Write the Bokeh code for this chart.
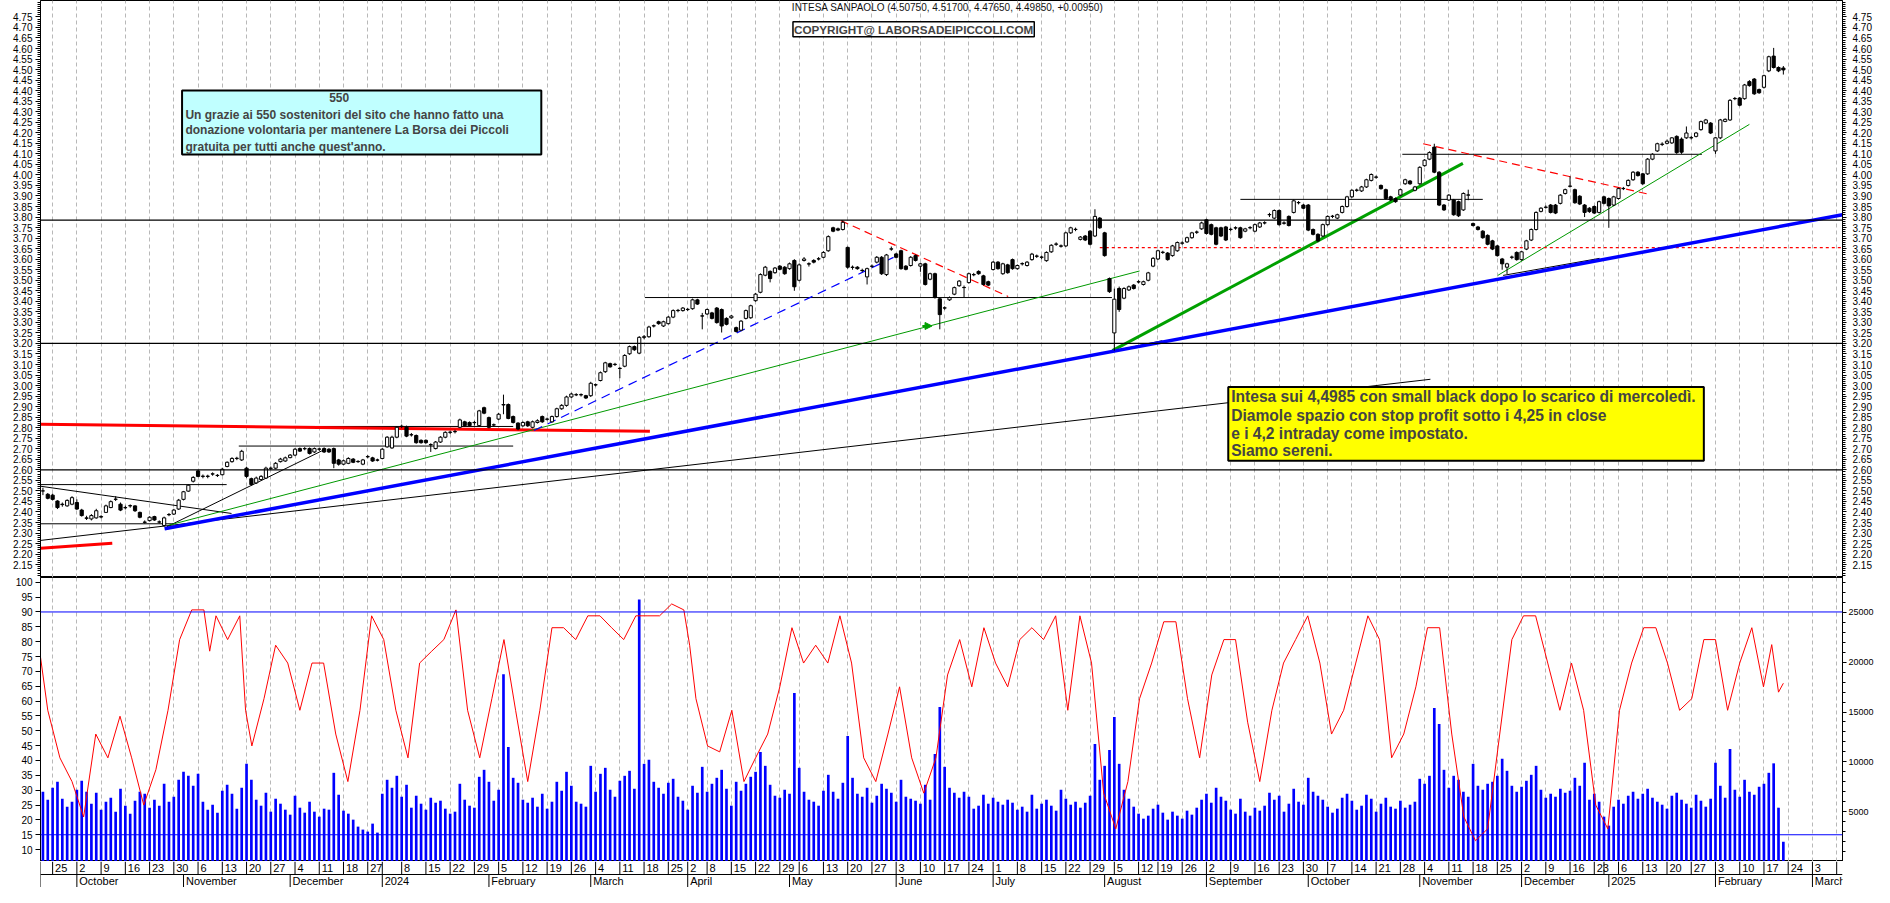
import numpy as np
import pandas as pd
from bokeh.plotting import figure
from bokeh.layouts import column
from bokeh.models import (Range1d, LinearAxis, FixedTicker, ColumnDataSource, Span, Label,
                          BoxAnnotation, Arrow, NormalHead, Grid, PrintfTickFormatter)
from bokeh.embed import file_html
from bokeh.resources import INLINE
from bokeh.core.properties import value

# ------------------------------------------------------------------ data
FIRST_DAY = "2023-09-20"
LAST_SLOT = "2025-03-12"
HOLIDAYS = ["2023-12-25", "2023-12-26", "2024-01-01", "2024-03-29", "2024-04-01",
            "2024-05-01", "2024-08-15", "2024-12-24", "2024-12-25", "2024-12-26",
            "2024-12-31", "2025-01-01"]
BLANK_WEEK_LABELS = ["2024-01-02", "2024-12-30"]
MONTHS = ["January", "February", "March", "April", "May", "June", "July", "August",
          "September", "October", "November", "December"]

OPENS = [
 2.51, 2.50, 2.484, 2.48, 2.452, 2.435, 2.429, 2.437, 2.445, 2.409,
 2.372, 2.367, 2.372, 2.378, 2.398, 2.421, 2.46, 2.437, 2.42, 2.43,
 2.429, 2.398, 2.352, 2.359, 2.378, 2.352, 2.336, 2.388, 2.39, 2.414,
 2.46, 2.499, 2.546, 2.595, 2.569, 2.57, 2.58, 2.574, 2.577, 2.616,
 2.639, 2.654, 2.647, 2.608, 2.558, 2.538, 2.554, 2.561, 2.607, 2.608,
 2.639, 2.642, 2.658, 2.67, 2.701, 2.70, 2.701, 2.685, 2.698, 2.701,
 2.698, 2.701, 2.647, 2.627, 2.631, 2.651, 2.64, 2.627, 2.662, 2.657,
 2.647, 2.654, 2.709, 2.704, 2.755, 2.806, 2.802, 2.766, 2.763, 2.74,
 2.74, 2.72, 2.701, 2.732, 2.755, 2.778, 2.781, 2.802, 2.828, 2.825,
 2.825, 2.81, 2.895, 2.848, 2.813, 2.841, 2.908, 2.91, 2.853, 2.822,
 2.809, 2.828, 2.802, 2.825, 2.853, 2.84, 2.828, 2.853, 2.89, 2.906,
 2.946, 2.956, 2.957, 2.952, 2.952, 3.004, 3.024, 3.066, 3.104, 3.10,
 3.082, 3.092, 3.151, 3.185, 3.154, 3.229, 3.232, 3.283, 3.303, 3.283,
 3.294, 3.325, 3.356, 3.356, 3.361, 3.365, 3.407, 3.33, 3.34, 3.345,
 3.368, 3.361, 3.319, 3.322, 3.275, 3.263, 3.319, 3.322, 3.403, 3.443,
 3.524, 3.542, 3.536, 3.567, 3.562, 3.555, 3.594, 3.50, 3.594, 3.578,
 3.594, 3.601, 3.609, 3.64, 3.749, 3.744, 3.741, 3.656, 3.562, 3.562,
 3.547, 3.516, 3.566, 3.586, 3.609, 3.527, 3.648, 3.625, 3.64, 3.567,
 3.57, 3.617, 3.567, 3.578, 3.505, 3.531, 3.412, 3.368, 3.407, 3.434,
 3.474, 3.465, 3.489, 3.527, 3.542, 3.521, 3.493, 3.551, 3.586, 3.531,
 3.573, 3.598, 3.555, 3.578, 3.57, 3.598, 3.615, 3.609, 3.593, 3.635,
 3.671, 3.663, 3.663, 3.725, 3.741, 3.694, 3.71, 3.733, 3.71, 3.795,
 3.725, 3.508, 3.25, 3.461, 3.415, 3.454, 3.477, 3.492, 3.48, 3.50,
 3.567, 3.601, 3.632, 3.629, 3.617, 3.64, 3.676, 3.682, 3.702, 3.728,
 3.744, 3.787, 3.764, 3.749, 3.749, 3.753, 3.741, 3.749, 3.749, 3.733,
 3.749, 3.733, 3.753, 3.772, 3.811, 3.795, 3.831, 3.772, 3.803, 3.822,
 3.868, 3.857, 3.857, 3.741, 3.718, 3.71, 3.764, 3.803, 3.795, 3.822,
 3.85, 3.896, 3.927, 3.924, 3.943, 3.974, 3.989, 3.95, 3.93, 3.896,
 3.888, 3.904, 3.958, 3.971, 3.927, 3.958, 4.044, 4.075, 4.132, 4.013,
 3.857, 3.881, 3.881, 3.873, 3.834, 3.904, 3.769, 3.753, 3.733, 3.713,
 3.687, 3.663, 3.601, 3.562, 3.609, 3.632, 3.598, 3.648, 3.691, 3.741,
 3.827, 3.846, 3.857, 3.857, 3.865, 3.912, 3.946, 3.93, 3.899, 3.857,
 3.842, 3.85, 3.822, 3.896, 3.888, 3.857, 3.888, 3.935, 3.95, 3.977,
 4.013, 4.005, 4.005, 4.075, 4.114, 4.145, 4.15, 4.152, 4.183, 4.17,
 4.176, 4.176, 4.183, 4.215, 4.246, 4.246, 4.114, 4.176, 4.254, 4.261,
 4.362, 4.365, 4.362, 4.443, 4.455, 4.405, 4.416, 4.494, 4.564, 4.51,
 4.5075]

HIGHS = [
 2.52, 2.515, 2.49, 2.487, 2.456, 2.445, 2.46, 2.475, 2.46, 2.415,
 2.382, 2.39, 2.415, 2.385, 2.435, 2.455, 2.475, 2.445, 2.43, 2.436,
 2.432, 2.402, 2.36, 2.38, 2.382, 2.36, 2.378, 2.395, 2.415, 2.462,
 2.50, 2.532, 2.57, 2.60, 2.578, 2.577, 2.588, 2.58, 2.61, 2.64,
 2.66, 2.662, 2.695, 2.615, 2.563, 2.568, 2.575, 2.615, 2.616, 2.637,
 2.657, 2.663, 2.675, 2.704, 2.706, 2.708, 2.706, 2.706, 2.705, 2.707,
 2.703, 2.706, 2.652, 2.649, 2.66, 2.656, 2.646, 2.652, 2.67, 2.662,
 2.653, 2.703, 2.76, 2.762, 2.808, 2.815, 2.81, 2.775, 2.768, 2.745,
 2.745, 2.726, 2.737, 2.76, 2.783, 2.786, 2.79, 2.843, 2.833, 2.83,
 2.832, 2.885, 2.90, 2.853, 2.82, 2.87, 2.957, 2.915, 2.858, 2.826,
 2.83, 2.833, 2.834, 2.84, 2.858, 2.848, 2.858, 2.895, 2.912, 2.952,
 2.966, 2.964, 2.963, 2.956, 3.018, 3.01, 3.067, 3.113, 3.109, 3.108,
 3.088, 3.149, 3.19, 3.19, 3.235, 3.24, 3.284, 3.29, 3.308, 3.308,
 3.33, 3.362, 3.364, 3.373, 3.368, 3.413, 3.412, 3.345, 3.366, 3.35,
 3.373, 3.366, 3.324, 3.335, 3.28, 3.311, 3.361, 3.384, 3.44, 3.533,
 3.568, 3.547, 3.563, 3.572, 3.567, 3.584, 3.60, 3.58, 3.61, 3.585,
 3.60, 3.61, 3.638, 3.713, 3.754, 3.75, 3.785, 3.66, 3.57, 3.567,
 3.555, 3.56, 3.575, 3.615, 3.615, 3.625, 3.66, 3.63, 3.645, 3.572,
 3.615, 3.622, 3.583, 3.583, 3.536, 3.536, 3.417, 3.376, 3.423, 3.47,
 3.501, 3.475, 3.536, 3.535, 3.547, 3.526, 3.498, 3.591, 3.591, 3.583,
 3.578, 3.603, 3.575, 3.585, 3.591, 3.63, 3.622, 3.617, 3.637, 3.671,
 3.68, 3.67, 3.73, 3.754, 3.75, 3.71, 3.715, 3.738, 3.837, 3.80,
 3.73, 3.513, 3.46, 3.47, 3.467, 3.475, 3.482, 3.50, 3.498, 3.54,
 3.61, 3.645, 3.64, 3.634, 3.668, 3.684, 3.685, 3.707, 3.73, 3.736,
 3.778, 3.792, 3.769, 3.754, 3.754, 3.758, 3.75, 3.756, 3.754, 3.749,
 3.757, 3.769, 3.777, 3.78, 3.82, 3.836, 3.836, 3.78, 3.808, 3.883,
 3.876, 3.862, 3.862, 3.746, 3.723, 3.769, 3.808, 3.81, 3.816, 3.855,
 3.901, 3.932, 3.935, 3.948, 3.982, 4.007, 3.997, 3.955, 3.935, 3.901,
 3.893, 3.935, 3.982, 3.976, 3.948, 4.041, 4.075, 4.112, 4.148, 4.018,
 3.862, 3.909, 3.886, 3.878, 3.917, 3.93, 3.774, 3.758, 3.738, 3.718,
 3.692, 3.668, 3.606, 3.583, 3.617, 3.637, 3.64, 3.692, 3.746, 3.827,
 3.847, 3.855, 3.862, 3.862, 3.909, 3.935, 3.993, 3.935, 3.904, 3.862,
 3.847, 3.855, 3.878, 3.901, 3.893, 3.901, 3.94, 3.943, 3.979, 4.018,
 4.018, 4.01, 4.08, 4.103, 4.153, 4.155, 4.168, 4.18, 4.188, 4.178,
 4.23, 4.185, 4.204, 4.258, 4.266, 4.251, 4.18, 4.266, 4.268, 4.36,
 4.37, 4.37, 4.432, 4.45, 4.46, 4.41, 4.476, 4.566, 4.603, 4.515,
 4.517]

LOWS = [
 2.49, 2.48, 2.46, 2.455, 2.414, 2.425, 2.425, 2.432, 2.41, 2.378,
 2.362, 2.36, 2.368, 2.37, 2.395, 2.418, 2.452, 2.404, 2.412, 2.42,
 2.40, 2.37, 2.345, 2.355, 2.358, 2.345, 2.33, 2.38, 2.386, 2.41,
 2.455, 2.495, 2.54, 2.565, 2.56, 2.56, 2.572, 2.566, 2.573, 2.612,
 2.634, 2.646, 2.642, 2.562, 2.525, 2.533, 2.55, 2.557, 2.60, 2.603,
 2.635, 2.638, 2.655, 2.665, 2.685, 2.693, 2.673, 2.68, 2.69, 2.68,
 2.68, 2.608, 2.62, 2.622, 2.627, 2.632, 2.633, 2.622, 2.655, 2.638,
 2.64, 2.65, 2.705, 2.70, 2.75, 2.798, 2.755, 2.758, 2.724, 2.724,
 2.724, 2.685, 2.697, 2.728, 2.75, 2.77, 2.773, 2.798, 2.805, 2.805,
 2.81, 2.805, 2.864, 2.797, 2.806, 2.836, 2.864, 2.84, 2.82, 2.788,
 2.804, 2.804, 2.797, 2.82, 2.823, 2.834, 2.824, 2.848, 2.885, 2.90,
 2.94, 2.95, 2.948, 2.936, 2.946, 2.996, 3.02, 3.06, 3.085, 3.093,
 3.035, 3.087, 3.146, 3.165, 3.149, 3.22, 3.227, 3.276, 3.289, 3.278,
 3.29, 3.32, 3.348, 3.351, 3.354, 3.36, 3.383, 3.267, 3.335, 3.314,
 3.294, 3.252, 3.286, 3.317, 3.252, 3.258, 3.314, 3.317, 3.398, 3.438,
 3.519, 3.49, 3.531, 3.547, 3.526, 3.55, 3.45, 3.495, 3.589, 3.565,
 3.58, 3.594, 3.604, 3.635, 3.728, 3.733, 3.736, 3.555, 3.55, 3.55,
 3.538, 3.48, 3.56, 3.58, 3.525, 3.52, 3.64, 3.604, 3.55, 3.547,
 3.565, 3.589, 3.54, 3.475, 3.50, 3.413, 3.267, 3.36, 3.402, 3.429,
 3.469, 3.42, 3.484, 3.519, 3.526, 3.475, 3.472, 3.546, 3.55, 3.526,
 3.531, 3.55, 3.55, 3.57, 3.565, 3.593, 3.606, 3.60, 3.588, 3.63,
 3.663, 3.655, 3.658, 3.72, 3.733, 3.689, 3.686, 3.666, 3.705, 3.744,
 3.612, 3.44, 3.166, 3.35, 3.41, 3.449, 3.456, 3.485, 3.475, 3.495,
 3.562, 3.596, 3.625, 3.593, 3.612, 3.635, 3.668, 3.677, 3.697, 3.72,
 3.739, 3.717, 3.713, 3.666, 3.705, 3.686, 3.733, 3.74, 3.697, 3.728,
 3.742, 3.728, 3.748, 3.765, 3.80, 3.79, 3.759, 3.764, 3.755, 3.817,
 3.86, 3.837, 3.733, 3.713, 3.68, 3.705, 3.759, 3.795, 3.79, 3.817,
 3.845, 3.891, 3.92, 3.919, 3.938, 3.969, 3.982, 3.93, 3.883, 3.876,
 3.868, 3.899, 3.953, 3.953, 3.922, 3.953, 4.039, 4.07, 4.008, 3.852,
 3.829, 3.876, 3.806, 3.80, 3.829, 3.88, 3.755, 3.736, 3.697, 3.666,
 3.643, 3.612, 3.55, 3.53, 3.60, 3.593, 3.593, 3.643, 3.686, 3.736,
 3.822, 3.84, 3.817, 3.814, 3.86, 3.907, 3.94, 3.863, 3.857, 3.80,
 3.82, 3.814, 3.817, 3.86, 3.749, 3.852, 3.883, 3.928, 3.945, 3.972,
 3.992, 3.953, 4.0, 4.07, 4.109, 4.137, 4.145, 4.147, 4.10, 4.10,
 4.171, 4.168, 4.178, 4.21, 4.241, 4.194, 4.10, 4.17, 4.25, 4.256,
 4.355, 4.326, 4.357, 4.419, 4.38, 4.385, 4.41, 4.488, 4.505, 4.488,
 4.4765]

CLOSES = [
 2.50, 2.50, 2.465, 2.46, 2.421, 2.437, 2.455, 2.468, 2.414, 2.383,
 2.370, 2.383, 2.406, 2.376, 2.429, 2.449, 2.461, 2.409, 2.421, 2.429,
 2.406, 2.375, 2.351, 2.375, 2.362, 2.353, 2.372, 2.387, 2.409, 2.456,
 2.496, 2.527, 2.564, 2.569, 2.570, 2.569, 2.581, 2.573, 2.603, 2.636,
 2.654, 2.655, 2.688, 2.569, 2.53, 2.561, 2.569, 2.608, 2.608, 2.631,
 2.651, 2.657, 2.670, 2.698, 2.689, 2.701, 2.678, 2.701, 2.699, 2.685,
 2.685, 2.631, 2.627, 2.643, 2.654, 2.636, 2.639, 2.647, 2.663, 2.642,
 2.646, 2.698, 2.755, 2.755, 2.802, 2.807, 2.76, 2.767, 2.729, 2.729,
 2.729, 2.719, 2.732, 2.755, 2.778, 2.779, 2.782, 2.837, 2.81, 2.81,
 2.824, 2.88, 2.869, 2.802, 2.814, 2.864, 2.91, 2.844, 2.825, 2.794,
 2.825, 2.809, 2.828, 2.833, 2.828, 2.841, 2.853, 2.89, 2.906, 2.946,
 2.96, 2.957, 2.956, 2.941, 3.011, 3.003, 3.061, 3.108, 3.089, 3.101,
 3.081, 3.143, 3.185, 3.17, 3.229, 3.232, 3.278, 3.284, 3.294, 3.303,
 3.325, 3.356, 3.357, 3.368, 3.362, 3.407, 3.387, 3.331, 3.361, 3.319,
 3.299, 3.283, 3.291, 3.33, 3.257, 3.306, 3.356, 3.379, 3.434, 3.527,
 3.562, 3.508, 3.558, 3.552, 3.531, 3.578, 3.469, 3.573, 3.601, 3.577,
 3.586, 3.602, 3.632, 3.707, 3.733, 3.738, 3.775, 3.562, 3.561, 3.555,
 3.546, 3.555, 3.567, 3.609, 3.531, 3.62, 3.649, 3.609, 3.555, 3.552,
 3.609, 3.594, 3.578, 3.48, 3.531, 3.418, 3.337, 3.369, 3.418, 3.465,
 3.496, 3.466, 3.531, 3.526, 3.531, 3.48, 3.477, 3.586, 3.555, 3.578,
 3.536, 3.555, 3.57, 3.579, 3.586, 3.624, 3.614, 3.61, 3.632, 3.666,
 3.672, 3.662, 3.725, 3.749, 3.742, 3.705, 3.691, 3.671, 3.803, 3.749,
 3.617, 3.446, 3.41, 3.361, 3.461, 3.469, 3.461, 3.493, 3.493, 3.535,
 3.604, 3.64, 3.633, 3.598, 3.663, 3.679, 3.677, 3.702, 3.725, 3.729,
 3.772, 3.722, 3.718, 3.671, 3.71, 3.691, 3.742, 3.748, 3.702, 3.744,
 3.75, 3.764, 3.772, 3.773, 3.812, 3.831, 3.764, 3.771, 3.76, 3.877,
 3.869, 3.842, 3.738, 3.718, 3.687, 3.764, 3.803, 3.804, 3.811, 3.85,
 3.896, 3.927, 3.928, 3.943, 3.977, 4.002, 3.99, 3.935, 3.888, 3.881,
 3.873, 3.93, 3.977, 3.958, 3.943, 4.036, 4.07, 4.106, 4.013, 3.857,
 3.834, 3.904, 3.811, 3.806, 3.912, 3.905, 3.76, 3.741, 3.702, 3.671,
 3.648, 3.617, 3.578, 3.578, 3.61, 3.598, 3.635, 3.687, 3.741, 3.822,
 3.842, 3.847, 3.822, 3.819, 3.904, 3.93, 3.947, 3.868, 3.862, 3.822,
 3.826, 3.819, 3.873, 3.865, 3.853, 3.896, 3.935, 3.936, 3.974, 4.013,
 3.997, 3.958, 4.075, 4.098, 4.148, 4.146, 4.16, 4.176, 4.106, 4.108,
 4.199, 4.177, 4.199, 4.253, 4.261, 4.199, 4.176, 4.261, 4.264, 4.354,
 4.363, 4.331, 4.427, 4.424, 4.385, 4.39, 4.471, 4.561, 4.51, 4.494,
 4.4985]

# volume, in units of 10000 shares
VOLUMES = [
 6500, 7000, 6200, 7400, 8000, 6300, 5500, 6000, 7200, 8100, 7000, 5800, 6900, 5200, 6000, 6400, 5000, 7300, 5600, 4800,
 6100, 7000, 6800, 5400, 6200, 5600, 7800, 6000, 6500, 8200, 9000, 8600, 7600, 8800, 6000, 5200, 5700, 4900, 7100, 7700,
 6800, 5300, 7400, 9800, 8200, 6200, 5600, 6900, 5000, 6300, 5800, 5200, 4700, 6600, 5400, 4900, 6000, 5000, 4500, 5300,
 5200, 8900, 6700, 5100, 4800, 4200, 3500, 3200, 3000, 3800, 2900, 6800, 8200, 7400, 8600, 6500, 7700, 5400, 6600, 5800,
 5200, 6400, 5900, 6100, 5300, 4800, 5000, 7800, 6200, 5600, 5400, 8500, 9200, 8000, 6100, 7200, 18800, 11500, 8400, 7900,
 6200, 5900, 6400, 5500, 6800, 5300, 6000, 8000, 7100, 9000, 7600, 6000, 5800, 5500, 9600, 7000, 8800, 9400, 7200, 6500,
 8100, 8600, 9100, 7300, 26300, 9800, 10200, 8000, 7400, 6800, 7900, 8300, 6500, 6100, 5200, 7600, 6900, 9500, 7000, 7800,
 8400, 9200, 7300, 5600, 8000, 7100, 7800, 8500, 9000, 11000, 9600, 7700, 6600, 6400, 7200, 6800, 16900, 9400, 7000, 6200,
 6000, 5600, 7100, 8700, 7000, 6300, 7900, 12600, 8400, 6800, 6500, 7400, 5900, 6600, 7800, 7300, 6900, 6000, 8200, 6500,
 6300, 6100, 5800, 7700, 6200, 10800, 15500, 9500, 7400, 6900, 6400, 7000, 6500, 5300, 5600, 6700, 5800, 6400, 6000, 5700,
 6200, 5900, 5200, 5500, 5000, 6700, 5300, 5800, 6200, 5600, 5100, 7200, 6300, 5700, 6000, 5400, 5900, 6600, 11800, 8200,
 9600, 11200, 14500, 9800, 7200, 6300, 5500, 4800, 4300, 4600, 5300, 5700, 4900, 4200, 5000, 4600, 4300, 5100, 4700, 5400,
 6200, 6800, 5900, 7400, 6500, 6100, 5200, 4800, 6300, 5000, 4600, 5400, 5100, 5600, 6900, 6200, 6600, 5000, 5800, 7300,
 6000, 5700, 8400, 7000, 6600, 6200, 5500, 4900, 5300, 6400, 6800, 6100, 5200, 5600, 6700, 6300, 5000, 5800, 6400, 5500,
 5300, 6100, 5400, 5700, 6000, 8300, 7800, 8600, 15400, 13800, 9200, 7400, 8600, 8200, 7000, 6500, 9800, 7600, 7200, 7800,
 8000, 8600, 10300, 9100, 7600, 7000, 7500, 8100, 8700, 9600, 7200, 6400, 6800, 6500, 7300, 6900, 7100, 8400, 7600, 9900,
 6200, 6800, 6000, 4500, 3600, 5500, 6200, 5800, 6600, 7000, 6300, 6800, 7300, 6400, 6000, 5700, 5300, 6600, 6900, 6200,
 5800, 5400, 6700, 6100, 5500, 6300, 9900, 7600, 6400, 11300, 7200, 6500, 8200, 7000, 6700, 7500, 7800, 8900, 9850, 5400,
 1970]

# oscillator (left scale of lower panel), read at these trading-day positions
OSC_X = [0.5, 2.0, 4.5, 7.0, 9.4, 11.9, 14.4, 16.9, 19.3, 21.8, 24.3, 26.8, 29.2, 31.7, 34.2,
         35.4, 36.7, 39.1, 41.6, 42.8, 44.1, 46.6, 49.0, 51.5, 54.0, 56.5, 58.9, 61.4, 63.9,
         66.4, 68.8, 71.3, 73.8, 76.3, 78.7, 81.2, 83.7, 86.2, 88.6, 91.1, 93.6, 96.1, 98.5,
         101.0, 103.5, 106.0, 108.4, 110.9, 113.4, 115.9, 118.3, 120.8, 123.3, 125.8, 128.2,
         130.7, 133.2, 134.4, 135.7, 138.1, 140.6, 143.1, 145.6, 148.0, 150.5, 153.0, 155.5,
         157.9, 160.4, 162.9, 165.4, 167.8, 170.3, 172.8, 175.3, 177.7, 180.2, 182.7, 185.2,
         187.6, 190.1, 192.6, 195.1, 197.5, 200.0, 202.5, 205.0, 207.4, 209.9, 212.4, 214.9,
         217.3, 219.8, 222.3, 224.8, 227.2, 229.7, 232.2, 234.7, 237.1, 239.6, 242.1, 244.6,
         247.0, 249.5, 252.0, 254.5, 256.9, 259.4, 261.9, 264.4, 266.8, 269.3, 271.8, 274.3,
         276.7, 279.2, 281.7, 284.2, 286.6, 289.1, 291.6, 294.1, 296.5, 299.0, 301.5, 304.0,
         306.4, 308.9, 311.4, 313.9, 316.3, 318.8, 321.3, 323.8, 326.2, 328.7, 331.2, 333.7,
         336.1, 338.6, 341.1, 343.6, 346.0, 348.5, 351.0, 353.5, 355.9, 357.6, 359.0, 360.0]
OSC_Y = [74.8, 56.9, 40.9, 32.9, 21.0, 48.9, 40.9, 54.9, 40.9, 25.0, 36.9, 56.9, 80.7, 90.7, 90.7,
         76.8, 88.7, 80.7, 88.7, 56.9, 44.9, 60.8, 78.8, 72.8, 56.9, 72.8, 72.8, 48.9, 32.9,
         56.9, 88.7, 80.7, 56.9, 40.9, 72.8, 76.8, 80.7, 90.7, 56.9, 40.9, 60.8, 80.7, 56.9,
         32.9, 56.9, 84.7, 84.7, 80.7, 88.7, 88.7, 84.7, 80.7, 88.7, 88.7, 88.7,
         92.7, 90.7, 78.8, 60.8, 44.9, 42.9, 56.9, 32.9, 40.9, 48.9, 64.8, 84.7,
         72.8, 78.8, 72.8, 88.7, 72.8, 40.9, 32.9, 48.9, 64.8, 40.9, 29.0, 40.9,
         68.8, 80.7, 64.8, 84.7, 72.8, 64.8, 80.7, 84.7, 80.7, 88.7, 56.9, 88.7,
         72.8, 29.0, 17.0, 32.9, 60.8, 72.8, 86.7, 86.7, 60.8, 40.9, 68.8, 80.7,
         80.7, 52.9, 32.9, 56.9, 72.8, 80.7, 88.7, 72.8, 48.9, 56.9, 72.8, 88.7,
         80.7, 40.9, 48.9, 64.8, 84.7, 84.7, 48.9, 21.0, 13.0, 17.0, 48.9, 80.7,
         88.7, 88.7, 72.8, 56.9, 72.8, 56.9, 25.0, 17.0, 56.9, 72.8, 84.7, 84.7,
         72.8, 56.9, 60.8, 80.7, 80.7, 56.9, 72.8, 84.7, 64.8, 79.0, 63.0, 66.0]

# hand-drawn study lines: (x0, y0, x1, y1) in trading-day index / price
BLACK_LINES = [(0.5, 2.53, 38.9, 2.53), (0.6, 2.522, 39.9, 2.393), (0.5, 2.344, 28.0, 2.344),
               (0.5, 2.265, 287.2, 3.03), (26.6, 2.33, 59.4, 2.70), (41.4, 2.713, 98.0, 2.713),
               (52.7, 2.806, 98.0, 2.806), (125.2, 3.418, 221.5, 3.418), (248.0, 3.884, 298.0, 3.884),
               (281.4, 4.098, 343.2, 4.098), (222.1, 3.166, 231.9, 3.213), (302.2, 3.523, 322.1, 3.604)]
GREEN_THIN = [(26.9, 2.337, 227.2, 3.544), (301.1, 3.523, 353.0, 4.24)]
GREEN_THICK = [(221.6, 3.166, 293.9, 4.055)]
BLUE_THICK = [(26.1, 2.32, 372.2, 3.811)]
BLUE_DASHED = [(102.3, 2.787, 177.2, 3.617)]
RED_THICK = [(0.5, 2.817, 126.2, 2.783), (0.5, 2.228, 15.3, 2.252)]
RED_DASHED = [(165.6, 3.783, 200.1, 3.423), (285.7, 4.148, 332.1, 3.909)]
RED_DOTTED = [(219.0, 3.655, 372.2, 3.655)]
H_LEVELS = [3.785, 3.20, 2.60]
OSC_LEVELS = [90, 15]
GREEN_ARROW = (182.4, 3.283, 184.4, 3.283)

TITLE = "INTESA SANPAOLO (4.50750, 4.51700, 4.47650, 4.49850, +0.00950)"
COPYRIGHT = "COPYRIGHT@ LABORSADEIPICCOLI.COM"
CYAN_LINES = ["Un grazie ai 550 sostenitori del sito che hanno fatto una",
              "donazione volontaria per mantenere La Borsa dei Piccoli",
              "gratuita per tutti anche quest'anno."]
YELLOW_LINES = ["Intesa sui 4,4985 con small black dopo lo scarico di mercoledì.",
                "Diamole spazio con stop profit sotto i 4,25 in close",
                "e i 4,2 intraday come impostato.",
                "Siamo sereni."]

N = len(CLOSES)
assert len(OPENS) == N and len(HIGHS) == N and len(LOWS) == N and len(VOLUMES) == N, \
    (len(OPENS), len(HIGHS), len(LOWS), len(CLOSES), len(VOLUMES))
assert len(OSC_X) == len(OSC_Y), (len(OSC_X), len(OSC_Y))

# ------------------------------------------------------------------ calendar
days = pd.bdate_range(FIRST_DAY, LAST_SLOT)
days = days[~days.isin(pd.to_datetime(HOLIDAYS))]
X0, X1 = 0.5, 372.2
week_ticks, week_labels = [], []
for i in range(1, len(days)):
    if days[i].weekday() < days[i - 1].weekday() and i < X1:
        week_ticks.append(i)
        lab = "" if days[i].strftime("%Y-%m-%d") in BLANK_WEEK_LABELS else str(days[i].day)
        week_labels.append(lab if i < 369 else "")
month_ticks, month_labels = [], []
for i in range(1, len(days)):
    if days[i].month != days[i - 1].month and i < X1:
        month_ticks.append(i)
        month_labels.append(str(days[i].year) if days[i].month == 1 else MONTHS[days[i].month - 1])

# ------------------------------------------------------------------ layout
FW = 1802
BL, BR = 40, 32
FONT = "Liberation Sans"
xr = Range1d(X0, X1)


def style_axis(ax, size="10px", tick_out=5):
    ax.axis_line_color = "black"
    ax.major_tick_line_color = "black"
    ax.minor_tick_line_color = "black"
    ax.major_tick_in = 0
    ax.minor_tick_in = 0
    ax.major_tick_out = tick_out
    ax.minor_tick_out = 3
    ax.major_label_text_font = FONT
    ax.major_label_text_font_size = size
    ax.major_label_text_color = "black"


def base_fig(h, yr):
    f = figure(frame_width=FW, frame_height=h, x_range=xr, y_range=yr, x_axis_location=None,
               toolbar_location=None, output_backend="svg", min_border_left=BL,
               min_border_right=BR, min_border_top=0, min_border_bottom=0, title=None,
               background_fill_color="white", border_fill_color="white")
    f.grid.visible = False
    f.outline_line_color = "black"
    f.outline_line_width = 1
    return f


def draw_lines(f, lines, **kw):
    x0, y0, x1, y1 = zip(*lines)
    f.segment(x0=list(x0), y0=list(y0), x1=list(x1), y1=list(y1), **kw)


# ---------------- top panel (price)
p1 = base_fig(577, Range1d(2.089, 4.828))
price_major = [round(2.15 + 0.05 * k, 2) for k in range(53)]
price_minor = [round(2.10 + 0.01 * k, 2) for k in range(273)]
yax = p1.yaxis[0]
yax.ticker = FixedTicker(ticks=price_major, minor_ticks=price_minor)
yax.formatter = PrintfTickFormatter(format="%.2f")
yax.major_label_standoff = 3
style_axis(yax)
rax = LinearAxis(ticker=FixedTicker(ticks=price_major, minor_ticks=price_minor),
                 formatter=PrintfTickFormatter(format="%.2f"), major_label_standoff=6)
style_axis(rax, tick_out=4)
p1.add_layout(rax, "right")
p1.add_layout(Grid(dimension=0, ticker=FixedTicker(ticks=week_ticks), grid_line_color="#b8b8b8",
                   grid_line_dash="4 3", grid_line_width=1))

for lv in H_LEVELS:
    p1.add_layout(Span(location=lv, dimension="width", line_color="black", line_width=1.3))

draw_lines(p1, BLACK_LINES, line_color="black", line_width=1)
draw_lines(p1, RED_THICK, line_color="#ff0000", line_width=3)
draw_lines(p1, GREEN_THIN, line_color="#009900", line_width=1)
draw_lines(p1, BLUE_DASHED, line_color="#0000ff", line_width=1.2, line_dash="9 6")
draw_lines(p1, RED_DASHED, line_color="#ff0000", line_width=1.2, line_dash="8 5")
draw_lines(p1, RED_DOTTED, line_color="#ff0000", line_width=1.2, line_dash="3 3")
draw_lines(p1, GREEN_THICK, line_color="#00a000", line_width=3)
draw_lines(p1, BLUE_THICK, line_color="#0000ff", line_width=3.5)

o = np.array(OPENS); c = np.array(CLOSES)
src = ColumnDataSource(dict(x=np.arange(N), h=HIGHS, l=LOWS, top=np.maximum(o, c),
                            bottom=np.minimum(o, c),
                            fill=np.where(c >= o, "white", "black")))
p1.segment(x0="x", y0="h", x1="x", y1="l", source=src, line_color="black", line_width=1)
p1.vbar(x="x", width=0.66, top="top", bottom="bottom", fill_color="fill", line_color="black",
        line_width=1, source=src)

ax0, ay0, ax1, ay1 = GREEN_ARROW
p1.add_layout(Arrow(end=NormalHead(size=7, fill_color="#00a000", line_color="#00a000"),
                    x_start=ax0, y_start=ay0, x_end=ax1, y_end=ay1,
                    line_color="#00a000", line_width=2))

# texts
p1.add_layout(Label(x=187.6, y=4.793, text=TITLE, text_align="center", text_baseline="middle",
                    text_font=FONT, text_font_size="10px", text_color="#111111"))
p1.add_layout(Label(x=180.6, y=4.691, text=COPYRIGHT, text_align="center", text_baseline="middle",
                    text_font=FONT, text_font_size="11.7px", text_font_style="bold",
                    background_fill_color="white", border_line_color="black",
                    border_line_width=1.5, padding=1))

p1.add_layout(BoxAnnotation(left=29.7, right=103.8, top=4.401, bottom=4.097,
                            fill_color="#c0ffff", fill_alpha=1, line_color="black",
                            line_width=2, line_alpha=1))
p1.add_layout(Label(x=62.1, y=4.367, text="550", text_align="center", text_baseline="middle",
                    text_font=FONT, text_font_size="12px", text_font_style="bold"))
for t, yv in zip(CYAN_LINES, [4.284, 4.214, 4.134]):
    p1.add_layout(Label(x=30.4, y=yv, text=t, text_align="left", text_baseline="middle",
                        text_font=FONT, text_font_size="12px", text_font_style="bold"))

p1.add_layout(BoxAnnotation(left=245.5, right=343.6, top=2.993, bottom=2.643,
                            fill_color="#ffff00", fill_alpha=1, line_color="black",
                            line_width=2, line_alpha=1))
for t, yv in zip(YELLOW_LINES, [2.946, 2.859, 2.774, 2.690]):
    p1.add_layout(Label(x=246.1, y=yv, text=t, text_align="left", text_baseline="middle",
                        text_font=FONT, text_font_size="15.6px", text_font_style="bold"))

# ---------------- lower panel (oscillator + volume)
p2 = base_fig(284, Range1d(6.0, 101.6))
p2.extra_y_ranges = {"vol": Range1d(0, 28500)}
lax = p2.yaxis[0]
lax.ticker = FixedTicker(ticks=list(range(10, 101, 5)))
lax.major_label_standoff = 3
style_axis(lax)
vax = LinearAxis(y_range_name="vol",
                 ticker=FixedTicker(ticks=[5000, 10000, 15000, 20000, 25000],
                                    minor_ticks=list(range(1000, 28001, 1000))),
                 major_label_standoff=2)
style_axis(vax, size="9px", tick_out=4)
p2.add_layout(vax, "right")
p2.add_layout(Grid(dimension=0, ticker=FixedTicker(ticks=week_ticks), grid_line_color="#b8b8b8",
                   grid_line_dash="4 3", grid_line_width=1))
p2.vbar(x=np.arange(N), width=0.55, top=VOLUMES, bottom=0, y_range_name="vol",
        fill_color="#0000ff", line_color=None)
for lv in OSC_LEVELS:
    p2.add_layout(Span(location=lv, dimension="width", line_color="#0000ff", line_width=1))
p2.line(OSC_X, OSC_Y, line_color="#ff0000", line_width=1)
p2.add_layout(Label(x=372.9, y=700, y_range_name="vol", text="x10000", text_align="left",
                    text_baseline="middle", text_font=FONT, text_font_size="8px",
                    background_fill_color="white", border_line_color="black",
                    border_line_width=1, padding=1))

# ---------------- date axis rows
p3 = figure(frame_width=FW, frame_height=26, x_range=xr, y_range=Range1d(0, 2),
            x_axis_location=None, y_axis_location=None, toolbar_location=None,
            output_backend="svg", min_border_left=BL, min_border_right=BR, min_border_top=0,
            min_border_bottom=0, title=None, outline_line_color=None)
p3.grid.visible = False
p3.segment(x0=week_ticks, y0=[1] * len(week_ticks), x1=week_ticks, y1=[2] * len(week_ticks),
           line_color="black", line_width=1)
p3.text(x=[t + 0.5 for t in week_ticks], y=[1.5] * len(week_ticks), text=week_labels,
        text_align="left", text_baseline="middle", text_font=value(FONT),
        text_font_size=value("11px"), text_color="black")
p3.segment(x0=month_ticks, y0=[0] * len(month_ticks), x1=month_ticks, y1=[1] * len(month_ticks),
           line_color="black", line_width=1)
p3.text(x=[t + 0.5 for t in month_ticks], y=[0.5] * len(month_ticks), text=month_labels,
        text_align="left", text_baseline="middle", text_font=value(FONT),
        text_font_size=value("11px"), text_color="black")
p3.add_layout(Span(location=1, dimension="width", line_color="black", line_width=1))
p3.add_layout(Span(location=X0, dimension="height", line_color="black", line_width=1))

layout = column(p1, p2, p3, spacing=0)
open("out.html", "w").write(file_html(layout, INLINE))
